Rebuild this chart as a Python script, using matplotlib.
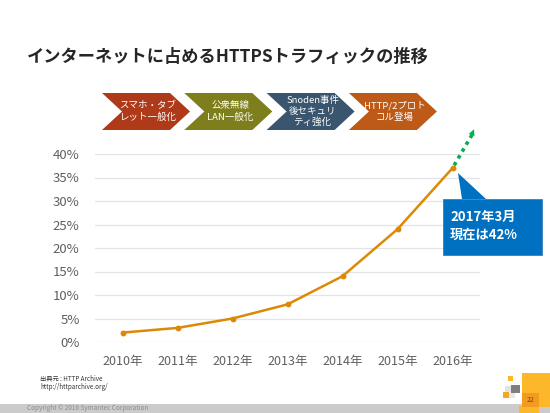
import matplotlib.pyplot as plt
from matplotlib.patches import Polygon, Rectangle

plt.rcParams['font.family'] = ['Noto Sans CJK JP', 'DejaVu Sans']

# data
years = ["2010年", "2011年", "2012年", "2013年", "2014年", "2015年", "2016年"]
https_share = [0.02, 0.03, 0.05, 0.08, 0.14, 0.24, 0.37]
yticks = [0.0, 0.05, 0.10, 0.15, 0.20, 0.25, 0.30, 0.35, 0.40]
ytick_labels = ["0%", "5%", "10%", "15%", "20%", "25%", "30%", "35%", "40%"]

events = ["スマホ・タブ\nレット一般化", "公衆無線\nLAN一般化", "Snoden事件\n後セキュリ\nティ強化", "HTTP/2プロト\nコル登場"]
event_colors = ["#AE3A1A", "#7E7F1C", "#3A566F", "#BD5A18"]

W, H = 550, 413
fig = plt.figure(figsize=(5.5, 4.13), dpi=100)
fig.patch.set_facecolor("white")

# chart area in pixels: x 95..480, y 154..342
ax = fig.add_axes([95 / W, 1 - 342 / H, 385 / W, 188 / H])
ax.plot(range(len(years)), https_share, color="#DC8A06", lw=1.8,
        marker="o", ms=3.2, clip_on=False, zorder=3)
ax.set_xlim(-0.5, len(years) - 0.5)
ax.set_ylim(0, 0.40)
ax.set_yticks(yticks)
ax.set_yticklabels(ytick_labels)
ax.set_xticks(range(len(years)))
ax.set_xticklabels(years)
ax.tick_params(length=0, colors="#5F5F5F", labelsize=9.5)
ax.tick_params(axis="y", pad=11)
ax.tick_params(axis="x", pad=9, labelsize=9)
ax.grid(axis="y", color="#E4E4E4", lw=0.9)
ax.set_axisbelow(True)
for s in ax.spines.values():
    s.set_visible(False)

# projection arrow towards 2017
green = "#00B050"
last = len(years) - 1
ax.plot([last + 0.03, last + 0.36], [https_share[-1] + 0.006, 0.442], ls=(0, (1, 1.2)),
        color=green, lw=2.6, clip_on=False, zorder=4)
ax.annotate("", xy=(last + 0.41, 0.458), xytext=(last + 0.34, 0.438),
            arrowprops=dict(arrowstyle="-|>", color=green, lw=0, mutation_scale=11),
            annotation_clip=False, zorder=4)

# overlay in pixel coordinates for slide decorations
ov = fig.add_axes([0, 0, 1, 1], zorder=5)
ov.set_xlim(0, W)
ov.set_ylim(H, 0)
ov.axis("off")
ov.patch.set_alpha(0)

ov.text(27, 57, "インターネットに占めるHTTPSトラフィックの推移", fontsize=12.4,
        fontweight="bold", color="#262626", va="center", ha="left")

# chevrons
x0, step, wdt, top, bot, notch = 102, 82.3, 88, 93, 130, 20
mid = (top + bot) / 2
for i, (label, col) in enumerate(zip(events, event_colors)):
    left = x0 + i * step
    pts = [(left, top), (left + wdt - notch, top), (left + wdt, mid),
           (left + wdt - notch, bot), (left, bot), (left + notch, mid)]
    ov.add_patch(Polygon(pts, closed=True, fc=col, ec="none"))
    ov.text(left + wdt / 2 + 2, mid, label, color="white", fontsize=6.8,
            ha="center", va="center", linespacing=1.25)

# callout
blue = "#0070C0"
ov.add_patch(Polygon([(458, 173), (462, 199), (486, 199)], closed=True, fc=blue, ec="none"))
ov.add_patch(Rectangle((443, 199), 99, 56, fc=blue, ec="#3A7EC0", lw=0.6))
ov.text(450, 226, "2017年3月\n現在は42%", color="white", fontsize=9.5,
        fontweight="bold", ha="left", va="center", linespacing=1.3)

# source
ov.text(40, 379, "出典元 : HTTP Archive", fontsize=4.5, color="#333333", va="center")
ov.text(40, 387, "http://httparchive.org/", fontsize=4.5, color="#333333", va="center")

# footer
ov.add_patch(Rectangle((0, 404), W, 9, fc="#CBCBCB", ec="none"))
ov.text(27, 408.5, "Copyright © 2016 Symantec Corporation", fontsize=4.6,
        color="#8C8C8C", va="center")

# corner squares
ov.add_patch(Rectangle((522, 373), 28, 34, fc="#FDB72A", ec="none"))
ov.add_patch(Rectangle((519, 406), 20, 7, fc="#FDB72A", ec="none"))
ov.add_patch(Rectangle((522, 393), 17, 14, fc="#F39A20", ec="none"))
ov.text(530.5, 400, "22", fontsize=5, color="#6B4A20", ha="center", va="center")
ov.add_patch(Rectangle((505, 386), 7, 6, fc="#E2E2E2", ec="none"))
ov.add_patch(Rectangle((511, 385), 9, 8, fc="#7F7F7F", ec="none"))
ov.add_patch(Rectangle((508, 376), 5, 5, fc="#FDB72A", ec="none"))
ov.add_patch(Rectangle((503, 392), 6, 6, fc="#F5A623", ec="none"))
ov.add_patch(Rectangle((509, 393), 6, 5, fc="#E8E8E8", ec="none"))

fig.savefig("out.png", dpi=100)
